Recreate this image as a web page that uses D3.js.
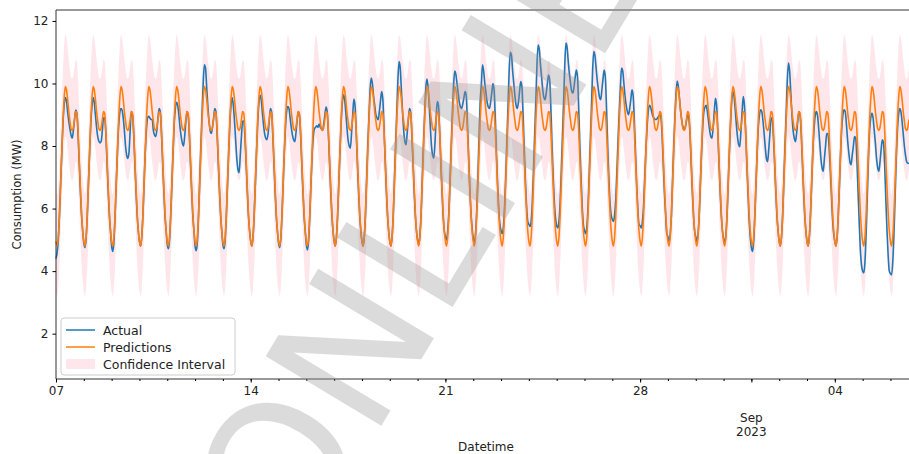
<!DOCTYPE html>
<html>
<head>
<meta charset="utf-8">
<script src="https://cdn.jsdelivr.net/npm/d3@7"></script>
<style>
  body { margin: 0; background: #fff; }
  text { font-family: "DejaVu Sans", sans-serif; fill: #222; }
</style>
</head>
<body>
<svg id="chart" width="909" height="454"></svg>
<script>
// hourly series, one row per day starting Mon 7 Aug 2023 00:00
const actualByDay = [
  [4.4, 4.6, 5.0, 5.8, 6.8, 7.8, 8.7, 9.3, 9.55, 9.45, 9.1, 8.8, 8.55, 8.35, 8.25, 8.5, 8.85, 9.15, 9.05, 8.4, 7.5, 6.6, 5.8, 5.3],
  [4.9, 4.75, 5.05, 5.8, 6.8, 7.8, 8.7, 9.25, 9.55, 9.4, 9.0, 8.6, 8.3, 8.15, 8.1, 8.15, 8.5, 8.9, 8.9, 8.4, 7.5, 6.6, 5.8, 5.3],
  [4.8, 4.63, 4.95, 5.8, 6.8, 7.8, 8.6, 9.05, 9.2, 9.15, 8.9, 8.5, 8.0, 7.7, 7.6, 7.8, 8.5, 9.1, 9.0, 8.4, 7.5, 6.6, 5.8, 5.3],
  [4.95, 4.8, 5.1, 5.8, 6.8, 7.8, 8.5, 8.9, 8.95, 8.9, 8.85, 8.85, 8.5, 8.35, 8.3, 8.5, 8.9, 9.2, 9.1, 8.4, 7.5, 6.6, 5.8, 5.3],
  [4.85, 4.72, 5.0, 5.8, 6.8, 7.8, 8.7, 9.2, 9.4, 9.3, 9.0, 8.6, 8.3, 8.1, 8.0, 8.3, 8.75, 9.1, 9.0, 8.4, 7.5, 6.6, 5.8, 5.3],
  [4.8, 4.65, 4.95, 5.8, 6.9, 8.0, 9.0, 10.0, 10.6, 10.5, 9.9, 9.3, 8.8, 8.5, 8.4, 8.6, 8.9, 9.2, 9.1, 8.4, 7.5, 6.6, 5.8, 5.3],
  [4.85, 4.72, 5.0, 5.8, 6.8, 7.8, 8.7, 9.3, 9.55, 9.3, 8.8, 8.2, 7.6, 7.25, 7.15, 7.7, 8.3, 8.8, 8.8, 8.3, 7.5, 6.6, 5.8, 5.3],
  [4.95, 4.8, 5.1, 5.8, 6.8, 7.8, 8.7, 9.35, 9.62, 9.5, 9.1, 8.7, 8.4, 8.25, 8.2, 8.4, 8.8, 9.2, 9.1, 8.4, 7.5, 6.6, 5.8, 5.3],
  [4.9, 4.75, 5.05, 5.8, 6.8, 7.8, 8.6, 9.1, 9.26, 9.2, 8.9, 8.6, 8.35, 8.2, 8.14, 8.4, 8.8, 9.1, 9.0, 8.4, 7.5, 6.6, 5.8, 5.3],
  [4.85, 4.68, 5.0, 5.8, 6.8, 7.7, 8.3, 8.55, 8.6, 8.65, 8.6, 8.7, 8.6, 8.55, 8.5, 8.7, 9.0, 9.25, 9.1, 8.4, 7.5, 6.6, 5.8, 5.3],
  [4.95, 4.8, 5.1, 5.8, 6.8, 7.8, 8.7, 9.35, 9.64, 9.5, 9.1, 8.6, 8.2, 8.0, 7.93, 8.4, 9.0, 9.5, 9.3, 8.5, 7.5, 6.6, 5.8, 5.3],
  [4.95, 4.8, 5.1, 5.8, 6.9, 8.0, 8.9, 9.8, 10.17, 10.0, 9.6, 9.3, 9.0, 8.9, 8.84, 9.1, 9.45, 9.74, 9.5, 8.6, 7.6, 6.6, 5.8, 5.3],
  [4.95, 4.8, 5.1, 5.8, 6.9, 8.0, 9.0, 10.1, 10.7, 10.5, 9.8, 9.1, 8.5, 8.15, 8.04, 8.4, 8.85, 9.2, 9.1, 8.4, 7.5, 6.6, 5.8, 5.3],
  [5.0, 4.85, 5.15, 5.8, 6.9, 8.0, 8.9, 9.8, 10.14, 9.9, 9.3, 8.6, 8.0, 7.7, 7.61, 8.1, 8.9, 9.42, 9.3, 8.5, 7.5, 6.6, 5.8, 5.3],
  [5.1, 5.0, 5.3, 5.9, 6.9, 8.0, 9.0, 9.9, 10.4, 10.3, 10.0, 9.7, 9.4, 9.25, 9.2, 9.35, 9.55, 9.74, 9.6, 8.7, 7.7, 6.7, 5.9, 5.4],
  [5.05, 4.9, 5.2, 5.9, 7.0, 8.2, 9.4, 9.96, 10.6, 10.4, 10.0, 9.7, 9.4, 9.25, 9.2, 9.4, 9.7, 10.0, 9.8, 8.9, 7.8, 6.8, 6.0, 5.5],
  [5.3, 5.2, 5.4, 6.0, 7.0, 8.1, 9.2, 10.4, 11.0, 10.9, 10.4, 10.0, 9.6, 9.3, 9.2, 9.4, 9.75, 10.06, 9.9, 9.0, 7.9, 6.9, 6.1, 5.6],
  [5.5, 5.43, 5.6, 6.2, 7.2, 8.3, 9.4, 10.6, 11.23, 11.1, 10.6, 10.2, 9.8, 9.55, 9.48, 9.7, 10.0, 10.27, 10.1, 9.2, 8.0, 7.0, 6.2, 5.7],
  [5.45, 5.38, 5.6, 6.2, 7.2, 8.3, 9.4, 10.6, 11.29, 11.15, 10.7, 10.3, 10.0, 9.75, 9.69, 9.9, 10.2, 10.43, 10.2, 9.2, 8.0, 7.0, 6.1, 5.5],
  [5.3, 5.2, 5.4, 6.0, 7.0, 8.1, 9.2, 10.4, 11.02, 10.9, 10.5, 10.1, 9.8, 9.55, 9.48, 9.8, 10.15, 10.43, 10.2, 9.2, 8.0, 7.0, 6.2, 5.8],
  [5.65, 5.59, 5.8, 6.3, 7.2, 8.2, 9.1, 9.9, 10.49, 10.4, 10.0, 9.6, 9.3, 9.1, 9.0, 9.2, 9.5, 9.8, 9.6, 8.8, 7.8, 6.8, 6.0, 5.5],
  [5.45, 5.38, 5.6, 6.1, 7.0, 7.9, 8.6, 9.1, 9.3, 9.25, 9.1, 8.95, 8.9, 8.85, 8.85, 8.9, 8.95, 9.0, 8.9, 8.3, 7.4, 6.5, 5.8, 5.2],
  [5.1, 4.95, 5.2, 5.8, 6.9, 8.0, 8.9, 9.7, 10.08, 9.9, 9.5, 9.1, 8.8, 8.6, 8.52, 8.6, 8.8, 9.0, 8.9, 8.4, 7.5, 6.6, 5.8, 5.3],
  [5.1, 4.95, 5.2, 5.8, 6.8, 7.8, 8.6, 9.1, 9.25, 9.3, 9.1, 8.8, 8.5, 8.3, 8.25, 8.6, 9.1, 9.53, 9.3, 8.5, 7.5, 6.6, 5.8, 5.3],
  [5.05, 4.9, 5.15, 5.8, 6.8, 7.8, 8.7, 9.4, 9.74, 9.6, 9.2, 8.7, 8.3, 8.05, 7.98, 8.5, 9.1, 9.58, 9.3, 8.5, 7.5, 6.6, 5.7, 5.1],
  [4.75, 4.63, 4.95, 5.8, 6.8, 7.8, 8.6, 9.0, 9.16, 9.1, 8.8, 8.4, 7.95, 7.6, 7.5, 7.9, 8.4, 8.9, 8.85, 8.3, 7.5, 6.6, 5.8, 5.3],
  [4.95, 4.8, 5.1, 5.8, 6.9, 8.0, 9.0, 10.1, 10.65, 10.4, 9.7, 9.0, 8.5, 8.25, 8.14, 8.4, 8.8, 9.1, 9.0, 8.4, 7.5, 6.6, 5.8, 5.3],
  [4.95, 4.8, 5.1, 5.8, 6.8, 7.8, 8.5, 8.95, 9.1, 9.0, 8.6, 8.1, 7.6, 7.3, 7.19, 7.6, 8.0, 8.4, 8.4, 8.0, 7.3, 6.5, 5.7, 5.2],
  [4.95, 4.8, 5.1, 5.8, 6.8, 7.8, 8.6, 9.0, 9.16, 9.1, 8.7, 8.2, 7.8, 7.5, 7.4, 7.7, 8.0, 8.3, 8.25, 7.6, 6.6, 5.6, 4.7, 4.2],
  [4.0, 3.94, 4.3, 5.2, 6.4, 7.6, 8.5, 8.9, 9.05, 8.9, 8.5, 8.1, 7.6, 7.3, 7.19, 7.5, 7.9, 8.2, 8.1, 7.4, 6.3, 5.3, 4.5, 4.0],
  [3.92, 3.88, 4.3, 5.2, 6.4, 7.6, 8.5, 9.0, 9.2, 9.1, 8.8, 8.4, 8.0, 7.7, 7.5, 7.45, 7.45]
];
// the prediction and its band repeat the same 24 hour shape every day
const predProfile = [4.95, 4.8, 5.1, 5.8, 6.8, 7.8, 8.8, 9.5, 9.9, 9.8, 9.5, 9.1, 8.8, 8.55, 8.5, 8.6, 8.85, 9.1, 9.05, 8.5, 7.6, 6.7, 5.9, 5.3];
const ciLowerProfile = [3.35, 3.2, 3.5, 4.2, 5.2, 6.2, 7.2, 7.9, 8.3, 8.2, 7.9, 7.5, 7.2, 6.95, 6.9, 7.0, 7.25, 7.5, 7.45, 6.9, 6.0, 5.1, 4.3, 3.7];
const ciUpperProfile = [6.6, 6.45, 6.75, 7.45, 8.45, 9.45, 10.45, 11.15, 11.55, 11.45, 11.15, 10.75, 10.45, 10.2, 10.15, 10.25, 10.5, 10.75, 10.7, 10.15, 9.25, 8.35, 7.55, 6.95];
const yTicks = [2, 4, 6, 8, 10, 12];
const legendLabels = ['Actual', 'Predictions', 'Confidence Interval'];
const startDate = new Date(2023, 7, 7, 0);

const svg = d3.select('#chart');
const plotLeft = 56, plotRight = 909, plotTop = 10, plotBottom = 379;

let actual = actualByDay.flat();
let data = actual.map((v, i) => {
  let h = i % 24;
  return {
    date: d3.timeHour.offset(startDate, i),
    actual: v,
    pred: predProfile[h],
    lo: ciLowerProfile[h],
    hi: ciUpperProfile[h]
  };
});

let x = d3.scaleTime()
  .domain(d3.extent(data, d => d.date))
  .range([plotLeft, plotRight]);
let y = d3.scaleLinear()
  .domain([0.55, 12.35])
  .range([plotBottom, plotTop]);

// confidence band
svg.append('path')
  .datum(data)
  .attr('fill', 'pink')
  .attr('fill-opacity', 0.4)
  .attr('d', d3.area().curve(d3.curveMonotoneX)
    .x(d => x(d.date)).y0(d => y(d.lo)).y1(d => y(d.hi)));

// lines
let lineOf = key => d3.line().curve(d3.curveMonotoneX)
  .x(d => x(d.date)).y(d => y(d[key]));
svg.append('path').datum(data)
  .attr('fill', 'none').attr('stroke', '#1f77b4').attr('stroke-width', 1.6)
  .attr('d', lineOf('actual'));
svg.append('path').datum(data)
  .attr('fill', 'none').attr('stroke', '#ff7f0e').attr('stroke-width', 1.6)
  .attr('d', lineOf('pred'));

// frame: left, top and bottom spines (the right one falls on the edge)
svg.append('path')
  .attr('d', `M${plotRight + 2},${plotTop}H${plotLeft}V${plotBottom}H${plotRight + 2}`)
  .attr('fill', 'none').attr('stroke', '#333').attr('stroke-width', 1);

// y axis
let yAxis = svg.append('g')
  .attr('transform', `translate(${plotLeft},0)`)
  .call(d3.axisLeft(y).tickValues(yTicks).tickSize(3.5).tickPadding(4).tickFormat(d3.format('d')));
yAxis.select('.domain').remove();
yAxis.selectAll('text').style('font-size', '12px');

// x axis: daily minor ticks, weekly major labels
let days = d3.timeDay.range(startDate, x.domain()[1]);
let minor = svg.append('g')
  .attr('transform', `translate(0,${plotBottom})`)
  .call(d3.axisBottom(x).tickValues(days).tickSize(2).tickFormat(''));
minor.select('.domain').remove();

let mondays = d3.timeMonday.range(startDate, x.domain()[1]);
let major = svg.append('g')
  .attr('transform', `translate(0,${plotBottom})`)
  .call(d3.axisBottom(x).tickValues(mondays.concat([new Date(2023, 8, 1)]))
    .tickSize(3.5).tickPadding(4)
    .tickFormat(d => d.getDay() === 1 ? d3.timeFormat('%d')(d) : ''));
major.select('.domain').remove();
major.selectAll('text').style('font-size', '12px');

// month label under 1 Sep
let sepX = x(new Date(2023, 8, 1));
svg.append('text').attr('x', sepX).attr('y', 422)
  .attr('text-anchor', 'middle').style('font-size', '12px').text('Sep');
svg.append('text').attr('x', sepX).attr('y', 436)
  .attr('text-anchor', 'middle').style('font-size', '12px').text('2023');

// axis titles
svg.append('text').attr('x', 486).attr('y', 451)
  .attr('text-anchor', 'middle').style('font-size', '12px').text('Datetime');
svg.append('text')
  .attr('transform', `translate(21,${(plotTop + plotBottom) / 2}) rotate(-90)`)
  .attr('text-anchor', 'middle').style('font-size', '11.5px').text('Consumption (MW)');

// legend
let legend = svg.append('g').attr('transform', 'translate(61,318)');
legend.append('rect')
  .attr('width', 174).attr('height', 57).attr('rx', 3)
  .attr('fill', '#fff').attr('fill-opacity', 0.8)
  .attr('stroke', '#ccc').attr('stroke-width', 1);
legendLabels.forEach((label, i) => {
  let cy = 12 + i * 17;
  if (i < 2) {
    legend.append('line')
      .attr('x1', 5).attr('x2', 34).attr('y1', cy).attr('y2', cy)
      .attr('stroke', i === 0 ? '#1f77b4' : '#ff7f0e').attr('stroke-width', 1.5);
  } else {
    legend.append('rect')
      .attr('x', 5).attr('y', cy - 5).attr('width', 29).attr('height', 10)
      .attr('fill', 'pink').attr('fill-opacity', 0.4);
  }
  legend.append('text')
    .attr('x', 42).attr('y', cy + 4.5)
    .style('font-size', '12.5px').text(label);
});

// diagonal watermark running from bottom left to top right
svg.append('text')
  .attr('transform', 'translate(297,566) rotate(-59)')
  .attr('x', 0).attr('y', 0)
  .style('font-size', '185px').style('fill', '#999').style('fill-opacity', 0.35)
  .text('ONLINE FIRST');
</script>
</body>
</html>
